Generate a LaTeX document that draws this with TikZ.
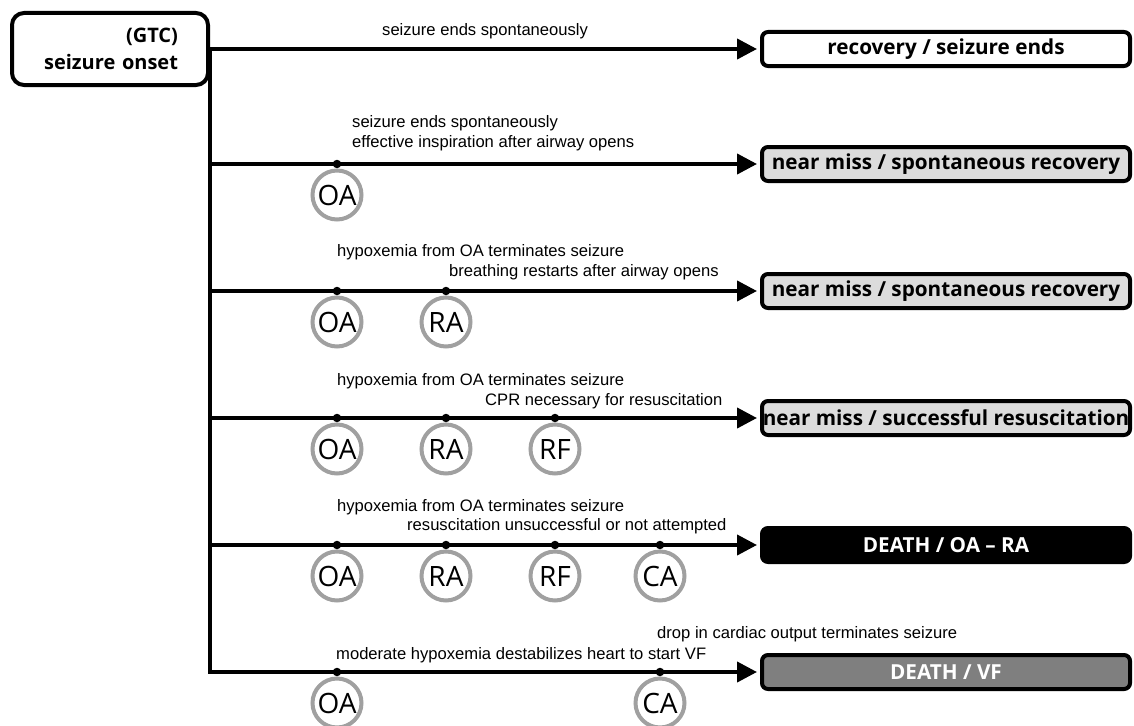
\documentclass[tikz,border=0pt]{standalone}
\usepackage{fontspec}
\setmainfont{Liberation Sans}
\newfontfamily\boxfont{Open Sans}
\usepackage{xcolor}
\usetikzlibrary{positioning,arrows.meta,calc}

\definecolor{nearmiss}{HTML}{DCDCDC}
\definecolor{deathgray}{HTML}{7F7F7F}
\definecolor{ringgray}{HTML}{A0A0A0}

\tikzset{
  flow/.style={line width=4pt},
  tip/.style={-{Triangle[length=20pt,width=20pt]}, shorten >=3pt},
  startbox/.style={draw, line width=4pt, rounded corners=12pt, align=right,
    text width=136pt, inner xsep=30pt, minimum height=72pt,
    font=\boxfont\bfseries\fontsize{20}{27}\selectfont},
  outbox/.style={draw, line width=4pt, rounded corners=6pt, minimum width=368pt,
    minimum height=34pt, inner sep=0pt, font=\boxfont\bfseries\fontsize{20.7}{22}\selectfont},
  event/.style={circle, draw=ringgray, line width=4pt, minimum size=49pt, inner sep=0pt,
    font=\boxfont\fontsize{28}{28}\selectfont},
  dot/.style={circle, fill, inner sep=0pt, minimum size=8.5pt},
  note/.style={inner sep=0pt, anchor=west, align=left, font=\fontsize{16.6}{19.5}\selectfont}
}

\begin{document}
\begin{tikzpicture}[x=1pt, y=-1pt]

  \useasboundingbox (0,0) rectangle (1134,725);

  % Onset
  \node[startbox] (onset) at (110,49) {(GTC)\\seizure onset};

  % Outcomes
  \node[outbox, fill=white] (out1) at (946,49) {recovery / seizure ends};
  \node[outbox, fill=nearmiss] (out2) at (946,164) {near miss / spontaneous recovery};
  \node[outbox, fill=nearmiss] (out3) at (946,291) {near miss / spontaneous recovery};
  \node[outbox, fill=nearmiss] (out4) at (946,418) {near miss / successful resuscitation};
  \node[outbox, fill=black, text=white] (out5) at (946,545) {DEATH / OA – RA};
  \node[outbox, fill=deathgray, text=white] (out6) at (946,672) {DEATH / VF};

  % Paths
  \draw[flow, tip] (onset) -- (out1);
  \draw[flow, tip] (onset.east) |- (out6);
  \foreach \row in {2,...,5}
    \draw[flow, tip] (onset.east |- out\row.west) -- (out\row.west);

  % Events on each path
  \foreach \row/\yy/\evts in {2/164/{OA/337}, 3/291/{OA/337,RA/446},
      4/418/{OA/337,RA/446,RF/555}, 5/545/{OA/337,RA/446,RF/555,CA/660},
      6/672/{OA/337,CA/660}}
    \foreach \ev/\xx in \evts {
      \node[event] (\ev\row) at (\xx,\yy+31) {\ev};
      \node[dot] (dot\ev\row) at (\ev\row |- out\row) {};
    }

  % Notes
  \node[note] (n1) at (382,31) {seizure ends spontaneously};
  \node[note] (n2) at (352,133) {seizure ends spontaneously\\effective inspiration after airway opens};
  \node[note] (n3a) at (337,252) {hypoxemia from OA terminates seizure};
  \node[note] (n3b) at (449,272) {breathing restarts after airway opens};
  \node[note] (n4a) at (337,381) {hypoxemia from OA terminates seizure};
  \node[note] (n4b) at (485,401) {CPR necessary for resuscitation};
  \node[note] (n5a) at (337,507) {hypoxemia from OA terminates seizure};
  \node[note] (n5b) at (407,526) {resuscitation unsuccessful or not attempted};
  \node[note] (n6b) at (657,634) {drop in cardiac output terminates seizure};
  \node[note] (n6a) at (336,655) {moderate hypoxemia destabilizes heart to start VF};

\end{tikzpicture}
\end{document}
